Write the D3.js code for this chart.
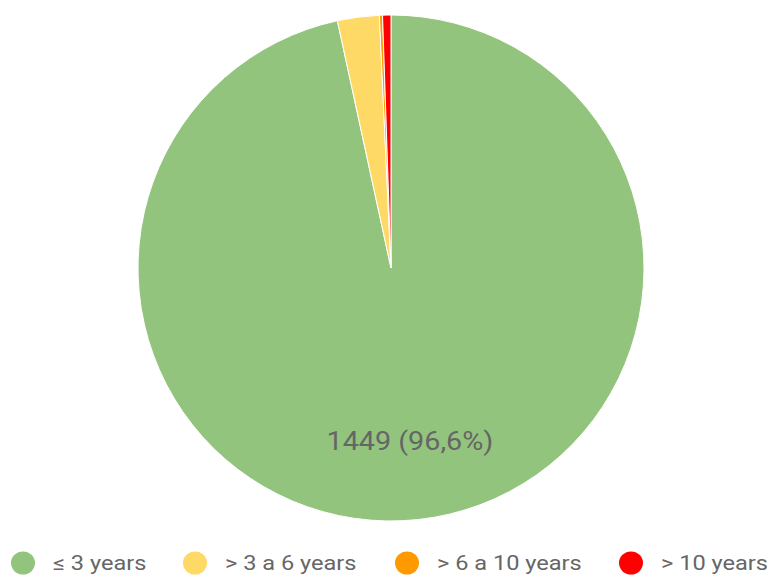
<!DOCTYPE html>
<html>
<head>
<meta charset="utf-8">
<script src="https://cdn.jsdelivr.net/npm/d3@7"></script>
<style>
  body { margin: 0; background: #fff; }
  svg { display: block; font-family: Roboto, "Noto Sans", sans-serif; }
</style>
</head>
<body>
<svg id="chart" width="776" height="576"></svg>
<script>
// data
var categories = ["\u2264 3 years", "> 3 a 6 years", "> 6 a 10 years", "> 10 years"];
var counts = [1449, 40, 3, 8];
var colors = ["#93c47d", "#ffd966", "#ff9900", "#ff0000"];

var width = 776, height = 576;
var cx = 391, cy = 268, radius = 253;
var stretch = 1.15; // text in the reference looks a bit wider than normal

var svg = d3.select("#chart");
var total = d3.sum(counts);

var pie = d3.pie().sort(null).value(function(d){ return d; });
var arcs = pie(counts);
var arc = d3.arc().innerRadius(0).outerRadius(radius);
var labelArc = d3.arc().innerRadius(radius * 0.7).outerRadius(radius * 0.7);

var g = svg.append("g").attr("transform", "translate(" + cx + "," + cy + ")");

g.selectAll("path")
  .data(arcs)
  .enter().append("path")
  .attr("d", arc)
  .attr("fill", function(d, i){ return colors[i]; })
  .attr("stroke", "#fff")
  .attr("stroke-width", 1);

// label only for slices big enough
g.selectAll("text.slice")
  .data(arcs.filter(function(d){ return d.value / total > 0.05; }))
  .enter().append("text")
  .attr("class", "slice")
  .attr("transform", function(d){
    var c = labelArc.centroid(d);
    return "translate(" + c[0] + "," + (c[1] + 6) + ") scale(" + stretch + ",1)";
  })
  .attr("text-anchor", "middle")
  .attr("font-size", 25)
  .attr("fill", "#666")
  .text(function(d){
    var pct = (d.value / total * 100).toFixed(1).replace(".", ",");
    return d.value + " (" + pct + "%)";
  });

// legend
var legendX = [23, 195, 407, 631];
var legend = svg.append("g");
var item = legend.selectAll("g")
  .data(categories)
  .enter().append("g")
  .attr("transform", function(d, i){ return "translate(" + legendX[i] + ",563)"; });
item.append("ellipse")
  .attr("rx", 12)
  .attr("ry", 11.5)
  .attr("fill", function(d, i){ return colors[i]; });
item.append("text")
  .attr("transform", "translate(30,7) scale(" + stretch + ",1)")
  .attr("font-size", 20.5)
  .attr("fill", "#666")
  .text(function(d){ return d; });
</script>
</body>
</html>
